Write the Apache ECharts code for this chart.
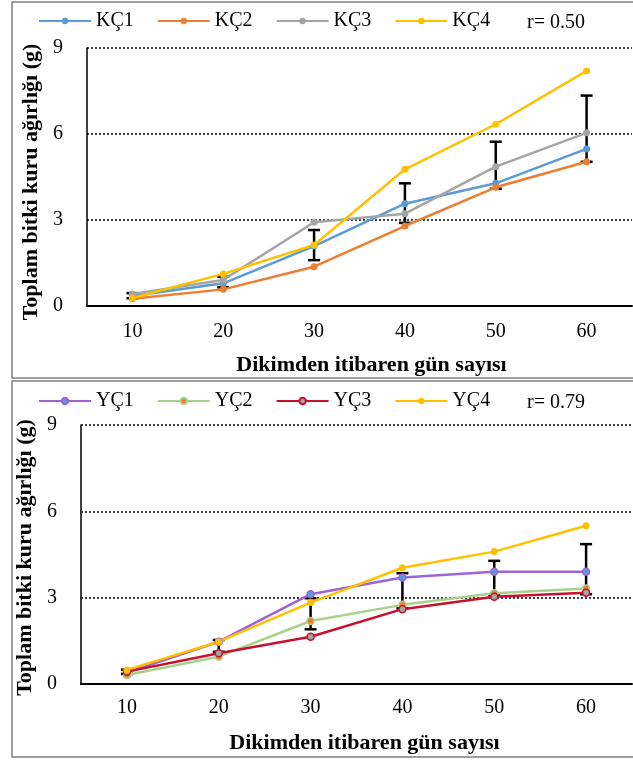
<!DOCTYPE html>
<html>
<head>
<meta charset="utf-8">
<script src="https://cdn.jsdelivr.net/npm/echarts@6/dist/echarts.min.js"></script>
<style>
  html, body { margin: 0; padding: 0; background: #fff; }
  #chart { width: 633px; height: 760px; }
</style>
</head>
<body>
<div id="chart"></div>
<script>
// gün sayısı (kategori)
var days = ['10', '20', '30', '40', '50', '60'];

// üst grafik: KÇ serileri
var kc1 = [0.35, 0.79, 2.09, 3.57, 4.28, 5.48];
var kc2 = [0.25, 0.58, 1.37, 2.79, 4.14, 5.03];
var kc3 = [0.42, 0.91, 2.92, 3.22, 4.86, 6.04];
var kc4 = [0.28, 1.12, 2.13, 4.77, 6.34, 8.20];
var errLowK = [0.27, 0.65, 1.60, 2.90, 4.09, 5.03];
var errHighK = [0.45, 1.02, 2.65, 4.28, 5.73, 7.34];

// alt grafik: YÇ serileri
var yc1 = [0.40, 1.47, 3.12, 3.70, 3.90, 3.90];
var yc2 = [0.31, 0.95, 2.19, 2.75, 3.15, 3.32];
var yc3 = [0.43, 1.07, 1.64, 2.60, 3.03, 3.17];
var yc4 = [0.49, 1.47, 2.83, 4.04, 4.60, 5.50];
var errLowY = [0.35, 1.12, 1.90, 2.63, 3.09, 3.12];
var errHighY = [0.50, 1.53, 2.98, 3.85, 4.28, 4.86];

var yTicks = [0, 3, 6, 9];

var serif = '"Liberation Serif", "DejaVu Serif", serif';

function errorBars(low, high) {
  return days.map(function (d, i) { return [i, low[i], high[i]]; });
}

function renderErr(params, api) {
  var x = api.value(0);
  var top = api.coord([x, api.value(2)]);
  var bot = api.coord([x, api.value(1)]);
  var w = 6;
  var st = { stroke: '#000', lineWidth: 2.5 };
  return {
    type: 'group',
    children: [
      { type: 'line', shape: { x1: top[0], y1: top[1], x2: bot[0], y2: bot[1] }, style: st },
      { type: 'line', shape: { x1: top[0] - w, y1: top[1], x2: top[0] + w, y2: top[1] }, style: st },
      { type: 'line', shape: { x1: bot[0] - w, y1: bot[1], x2: bot[0] + w, y2: bot[1] }, style: st }
    ]
  };
}

function lineSeries(name, data, idx, color, fill) {
  return {
    name: name,
    type: 'line',
    xAxisIndex: idx,
    yAxisIndex: idx,
    data: data,
    symbol: 'circle',
    symbolSize: 7,
    z: 3,
    lineStyle: { color: color, width: 2.5 },
    itemStyle: { color: fill || color, borderColor: color, borderWidth: fill ? 1.5 : 0 }
  };
}

function xAxisFor(idx, margin, shift) {
  return {
    type: 'category',
    gridIndex: idx,
    data: days,
    boundaryGap: true,
    name: 'Dikimden itibaren gün sayısı',
    nameLocation: 'middle',
    nameGap: 48,
    nameTextStyle: { fontFamily: serif, fontSize: 22, fontWeight: 'bold', color: '#000', padding: [0, 0, 0, shift] },
    axisLine: { lineStyle: { color: '#000', width: 2 } },
    axisTick: { show: false },
    axisLabel: { fontFamily: serif, fontSize: 20, color: '#000', margin: margin }
  };
}

function yAxisFor(idx, gap, shift) {
  return {
    type: 'value',
    gridIndex: idx,
    min: yTicks[0],
    max: yTicks[yTicks.length - 1],
    interval: 3,
    name: 'Toplam bitki kuru ağırlığı (g)',
    nameLocation: 'middle',
    nameGap: gap,
    nameRotate: 90,
    nameTextStyle: { fontFamily: serif, fontSize: 22, fontWeight: 'bold', color: '#000', padding: [0, shift, 0, 0] },
    axisLine: { show: true, lineStyle: { color: '#000', width: 1.5 } },
    axisTick: { show: false },
    axisLabel: { fontFamily: serif, fontSize: 20, color: '#000', margin: 24 },
    splitLine: { show: true, lineStyle: { color: '#000', width: 1.5, type: [2, 2] } }
  };
}

function legendFor(names, top) {
  return {
    data: names,
    left: 33,
    top: top,
    itemWidth: 52,
    itemHeight: 8,
    itemGap: 23,
    textStyle: { fontFamily: serif, fontSize: 20, color: '#000' }
  };
}

var chart = echarts.init(document.getElementById('chart'), null, { renderer: 'canvas' });
chart.setOption({
  animation: false,
  backgroundColor: '#fff',
  graphic: [
    { type: 'rect', shape: { x: 12, y: 2, width: 640, height: 376 }, style: { fill: null, stroke: '#808080', lineWidth: 1.5 } },
    { type: 'rect', shape: { x: 12, y: 381, width: 640, height: 376 }, style: { fill: null, stroke: '#808080', lineWidth: 1.5 } },
    { type: 'text', left: 527, top: 13, style: { text: 'r= 0.50', font: '20px ' + serif, fill: '#000' } },
    { type: 'text', left: 527, top: 393, style: { text: 'r= 0.79', font: '20px ' + serif, fill: '#000' } }
  ],
  legend: [
    legendFor(['KÇ1', 'KÇ2', 'KÇ3', 'KÇ4'], 6),
    legendFor(['YÇ1', 'YÇ2', 'YÇ3', 'YÇ4'], 386)
  ],
  grid: [
    { left: 87, right: 1, top: 48, height: 258 },
    { left: 81, right: 1, top: 425, height: 259 }
  ],
  xAxis: [xAxisFor(0, 16, 24), xAxisFor(1, 14, 16)],
  yAxis: [yAxisFor(0, 42, 10), yAxisFor(1, 37, 6)],
  series: [
    { type: 'custom', xAxisIndex: 0, yAxisIndex: 0, renderItem: renderErr, data: errorBars(errLowK, errHighK), z: 2 },
    lineSeries('KÇ1', kc1, 0, '#5b9bd5'),
    lineSeries('KÇ2', kc2, 0, '#ed7d31'),
    lineSeries('KÇ3', kc3, 0, '#a5a5a5'),
    lineSeries('KÇ4', kc4, 0, '#ffc000'),
    { type: 'custom', xAxisIndex: 1, yAxisIndex: 1, renderItem: renderErr, data: errorBars(errLowY, errHighY), z: 2 },
    lineSeries('YÇ1', yc1, 1, '#9e63d6', '#5b9bd5'),
    lineSeries('YÇ2', yc2, 1, '#a9d18e', '#ed7d31'),
    lineSeries('YÇ3', yc3, 1, '#c8102e', '#a5a5a5'),
    lineSeries('YÇ4', yc4, 1, '#ffc000')
  ]
});
</script>
</body>
</html>
